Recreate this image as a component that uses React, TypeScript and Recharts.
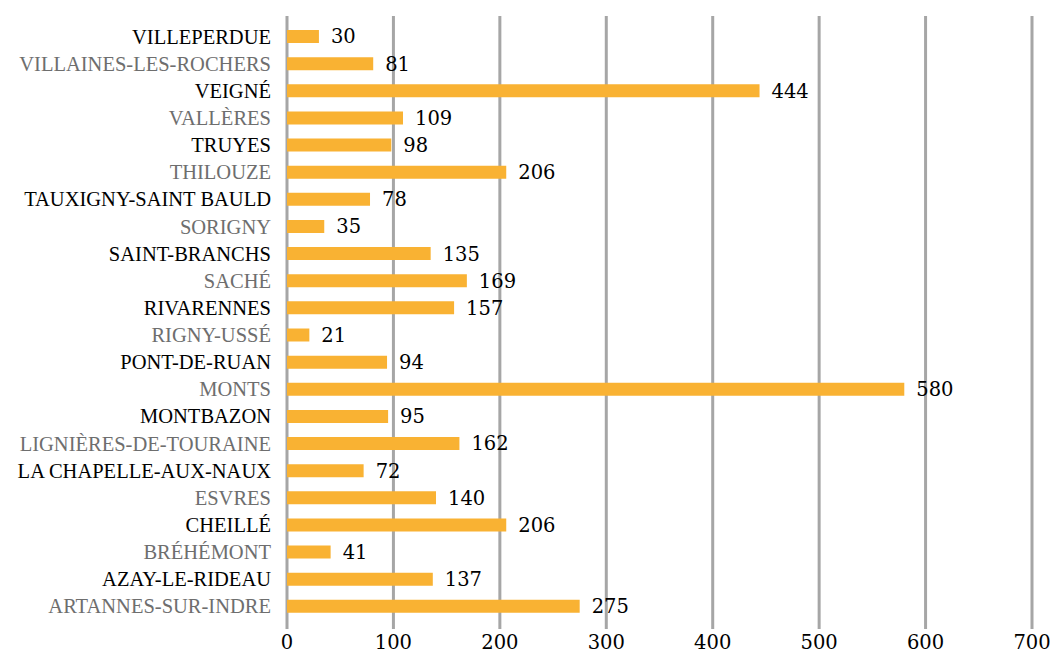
import { BarChart, Bar, XAxis, YAxis, CartesianGrid, LabelList } from 'recharts';

const communes = [
  'VILLEPERDUE',
  'VILLAINES-LES-ROCHERS',
  'VEIGNÉ',
  'VALLÈRES',
  'TRUYES',
  'THILOUZE',
  'TAUXIGNY-SAINT BAULD',
  'SORIGNY',
  'SAINT-BRANCHS',
  'SACHÉ',
  'RIVARENNES',
  'RIGNY-USSÉ',
  'PONT-DE-RUAN',
  'MONTS',
  'MONTBAZON',
  'LIGNIÈRES-DE-TOURAINE',
  'LA CHAPELLE-AUX-NAUX',
  'ESVRES',
  'CHEILLÉ',
  'BRÉHÉMONT',
  'AZAY-LE-RIDEAU',
  'ARTANNES-SUR-INDRE',
];

const values = [30, 81, 444, 109, 98, 206, 78, 35, 135, 169, 157, 21, 94, 580, 95, 162, 72, 140, 206, 41, 137, 275];

const xTicks = [0, 100, 200, 300, 400, 500, 600, 700];

const data = communes.map((name, i) => ({ name, value: values[i] }));

const BAR_COLOR = '#F9B233';
const GRID_COLOR = '#A6A6A6';
const LABEL_FONT = 'Liberation Serif, Times New Roman, serif';
const NUM_FONT = 'DejaVu Serif, serif';

const CategoryTick = ({ x, y, payload, index }: any) => (
  <text
    x={x - 8}
    y={y}
    dy={7}
    textAnchor="end"
    style={{ fontFamily: LABEL_FONT, fontSize: 20.5 }}
    fill={index % 2 === 1 ? '#6E6E6E' : '#000000'}
  >
    {payload.value}
  </text>
);

const ValueTick = ({ x, y, payload }: any) => (
  <text x={x} y={y + 12} textAnchor="middle" style={{ fontFamily: NUM_FONT, fontSize: 19.5 }} fill="#000000">
    {payload.value}
  </text>
);

export default function App() {
  return (
    <div style={{ position: 'absolute', left: 0, top: 0, background: '#fff' }}>
      <BarChart
        width={1054}
        height={653}
        data={data}
        layout="vertical"
        margin={{ top: 16, right: 22, left: 0, bottom: 0 }}
        barCategoryGap={0}
      >
        <CartesianGrid vertical={true} horizontal={false} stroke={GRID_COLOR} strokeWidth={3} />
        <XAxis
          type="number"
          domain={[0, 700]}
          ticks={xTicks}
          axisLine={false}
          tickLine={false}
          height={24}
          tick={<ValueTick />}
          interval={0}
        />
        <YAxis
          type="category"
          dataKey="name"
          width={287}
          axisLine={false}
          tickLine={false}
          interval={0}
          padding={{ top: 7, bottom: 9 }}
          tick={<CategoryTick />}
        />
        <Bar dataKey="value" fill={BAR_COLOR} barSize={13} isAnimationActive={false}>
          <LabelList
            dataKey="value"
            position="right"
            offset={12}
            style={{ fontFamily: NUM_FONT, fontSize: 19.5 }}
            fill="#000000"
          />
        </Bar>
      </BarChart>
    </div>
  );
}
